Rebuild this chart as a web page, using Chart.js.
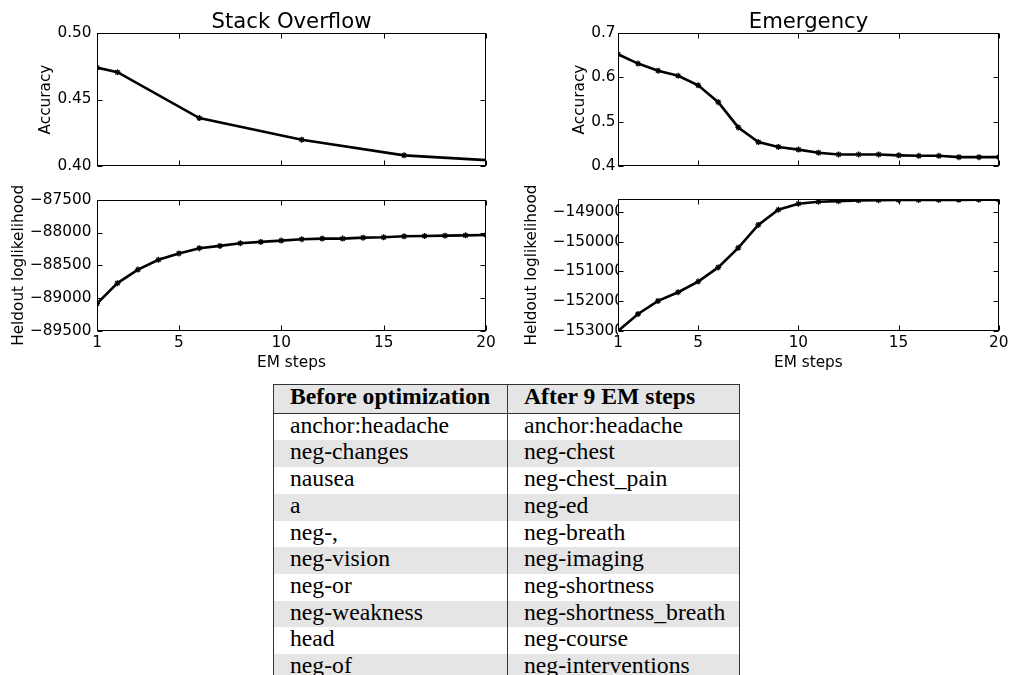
<!DOCTYPE html>
<html>
<head>
<meta charset="utf-8">
<script src="https://cdn.jsdelivr.net/npm/chart.js@4.4.1/dist/chart.umd.min.js"></script>
<style>
  body { margin: 0; width: 1011px; height: 675px; background: #fff; position: relative; overflow: hidden; }
  canvas { position: absolute; }
  #so-acc { left: 0; top: 0; }
  #em-acc { left: 500px; top: 0; }
  #so-ll { left: 0; top: 185px; }
  #em-ll { left: 500px; top: 185px; }
  table {
    position: absolute; left: 273px; top: 384px; width: 467px;
    border-collapse: collapse; table-layout: fixed;
    font-family: "Liberation Serif", "Times New Roman", serif; font-size: 23.7px; color: #000;
    border-left: 1px solid #333; border-right: 1px solid #333;
  }
  th, td { padding: 0 0 4px 16px; line-height: 22.7px; height: 22.7px; text-align: left; white-space: nowrap; }
  th { font-weight: bold; background: #e5e5e5; border-top: 1px solid #333; border-bottom: 1px solid #333; padding-bottom: 5px; }
  th:first-child, td:first-child { border-right: 1px solid #333; }
  tbody tr:nth-child(even) td { background: #e5e5e5; }
</style>
</head>
<body>
<canvas id="so-acc" width="500" height="185"></canvas>
<canvas id="em-acc" width="511" height="185"></canvas>
<canvas id="so-ll" width="500" height="190"></canvas>
<canvas id="em-ll" width="511" height="190"></canvas>
<table>
  <colgroup><col style="width:234px"><col></colgroup>
  <thead><tr><th>Before optimization</th><th>After 9 EM steps</th></tr></thead>
  <tbody id="words"></tbody>
</table>
<script>
// --- DATA ---
const emSteps = [1, 2, 3, 4, 5, 6, 7, 8, 9, 10, 11, 12, 13, 14, 15, 16, 17, 18, 19, 20];
const xTicks = [1, 5, 10, 15, 20];

const soAccSteps = [1, 2, 6, 11, 16, 21];
const soAccuracy = [0.474, 0.4705, 0.436, 0.4198, 0.408, 0.4035];
const soLoglik = [-89083, -88771, -88565, -88415, -88319, -88239, -88204, -88163, -88143, -88123,
                  -88103, -88093, -88093, -88078, -88073, -88058, -88053, -88048, -88043, -88038];

const emAccuracy = [0.652, 0.631, 0.615, 0.6035, 0.582, 0.544, 0.487, 0.454, 0.443, 0.437,
                    0.430, 0.426, 0.426, 0.426, 0.424, 0.423, 0.423, 0.420, 0.420, 0.420];
const emLoglik = [-153000, -152430, -151990, -151700, -151340, -150865, -150210, -149440, -148930, -148730,
                  -148660, -148640, -148615, -148610, -148605, -148600, -148600, -148598, -148596, -148595];

const soAccTicks = [0.40, 0.45, 0.50];
const emAccTicks = [0.4, 0.5, 0.6, 0.7];
const soLlTicks = [-89500, -89000, -88500, -88000, -87500];
const emLlTicks = [-153000, -152000, -151000, -150000, -149000];

const beforeOpt = ['anchor:headache', 'neg-changes', 'nausea', 'a', 'neg-,', 'neg-vision', 'neg-or', 'neg-weakness', 'head', 'neg-of'];
const afterEm = ['anchor:headache', 'neg-chest', 'neg-chest_pain', 'neg-ed', 'neg-breath', 'neg-imaging', 'neg-shortness', 'neg-shortness_breath', 'neg-course', 'neg-interventions'];

// --- TABLE ---
document.getElementById('words').innerHTML = beforeOpt.map((w, i) =>
  `<tr><td>${w}</td><td>${afterEm[i]}</td></tr>`).join('');

// --- CHARTS ---
Chart.defaults.font.family = 'DejaVu Sans';
Chart.defaults.color = '#000';

const TICK_FONT = { size: 15.3 };
const LABEL_FONT = { size: 15.3, lineHeight: 1.2 };

// matplotlib-like box with inward ticks on all four sides
const frameTicks = {
  id: 'frameTicks',
  afterDraw(chart) {
    const { ctx, chartArea: a, scales: { x, y } } = chart;
    const L = Math.round(a.left) + 0.5, R = Math.round(a.right) - 0.5;
    const T = Math.round(a.top) + 0.5, B = Math.round(a.bottom) - 0.5;
    ctx.save();
    ctx.strokeStyle = '#000';
    ctx.lineWidth = 1;
    ctx.strokeRect(L, T, R - L, B - T);
    ctx.beginPath();
    x.ticks.forEach(t => {
      const px = Math.round(x.getPixelForValue(t.value)) + 0.5;
      ctx.moveTo(px, B); ctx.lineTo(px, B - 5);
      ctx.moveTo(px, T); ctx.lineTo(px, T + 5);
    });
    y.ticks.forEach(t => {
      const py = Math.round(y.getPixelForValue(t.value)) + 0.5;
      ctx.moveTo(L, py); ctx.lineTo(L + 5, py);
      ctx.moveTo(R, py); ctx.lineTo(R - 5, py);
    });
    ctx.stroke();
    ctx.restore();
  }
};

// real minus sign, like matplotlib
const minus = v => (v < 0 ? '\u2212' : '') + Math.abs(v);

function plot(id, o) {
  return new Chart(document.getElementById(id), {
    type: 'line',
    data: {
      datasets: [{
        data: o.xs.map((x, i) => ({ x, y: o.ys[i] })),
        borderColor: '#000',
        borderWidth: 2.6,
        pointStyle: 'star',
        pointRadius: 3,
        pointBorderColor: '#000',
        pointBackgroundColor: '#000',
        pointBorderWidth: 1.3,
        tension: 0,
        clip: 0
      }]
    },
    options: {
      responsive: false,
      animation: false,
      layout: { padding: o.pad },
      plugins: {
        legend: { display: false },
        tooltip: { enabled: false },
        title: o.title ? {
          display: true, text: o.title, fullSize: false,
          font: { size: 21.2, weight: 'normal', lineHeight: 1.0 },
          padding: { top: 11.8, bottom: 0 }
        } : { display: false }
      },
      scales: {
        x: {
          type: 'linear', min: 1, max: 20,
          grid: { display: false, drawTicks: false },
          border: { display: false },
          afterBuildTicks: s => { s.ticks = xTicks.map(v => ({ value: v })); },
          afterFit: s => { s.height = o.xh; },
          ticks: { display: o.xLabels, font: TICK_FONT, padding: 2.5, autoSkip: false, maxRotation: 0 },
          title: { display: o.xLabels, text: 'EM steps', font: LABEL_FONT, padding: { top: 0, bottom: 2.5 } }
        },
        y: {
          min: o.ymin, max: o.ymax,
          grid: { display: false, drawTicks: false },
          border: { display: false },
          afterBuildTicks: s => { s.ticks = o.yTicks.map(v => ({ value: v })); },
          afterFit: s => { s.width = o.yw; },
          ticks: { font: TICK_FONT, padding: o.yPad, callback: o.fmt },
          title: { display: true, text: o.yTitle, font: LABEL_FONT, padding: { top: o.yTitleOff - 9.2, bottom: 0 } }
        }
      }
    },
    plugins: [frameTicks]
  });
}

plot('so-acc', {
  xs: soAccSteps, ys: soAccuracy, yTicks: soAccTicks, ymin: 0.40, ymax: 0.50,
  fmt: v => v.toFixed(2), title: 'Stack Overflow', yTitle: 'Accuracy', yTitleOff: 46,
  yw: 97, yPad: 5.5, xh: 19, xLabels: false, pad: { left: 0, right: 14, top: 0, bottom: 0 }
});
plot('em-acc', {
  xs: emSteps, ys: emAccuracy, yTicks: emAccTicks, ymin: 0.4, ymax: 0.7,
  fmt: v => v.toFixed(1), title: 'Emergency', yTitle: 'Accuracy', yTitleOff: 80,
  yw: 118, yPad: 2.5, xh: 19, xLabels: false, pad: { left: 0, right: 12, top: 0, bottom: 0 }
});
plot('so-ll', {
  xs: emSteps, ys: soLoglik, yTicks: soLlTicks, ymin: -89500, ymax: -87500,
  fmt: minus, yTitle: 'Heldout loglikelihood', yTitleOff: 18.7,
  yw: 97, yPad: 5.5, xh: 44, xLabels: true, pad: { left: 0, right: 14, top: 13, bottom: 0 }
});
plot('em-ll', {
  xs: emSteps, ys: emLoglik, yTicks: emLlTicks, ymin: -153000, ymax: -148570,
  fmt: minus, yTitle: 'Heldout loglikelihood', yTitleOff: 32.5,
  yw: 118, yPad: -6, xh: 44, xLabels: true, pad: { left: 0, right: 12, top: 14, bottom: 0 }
});
</script>
</body>
</html>
